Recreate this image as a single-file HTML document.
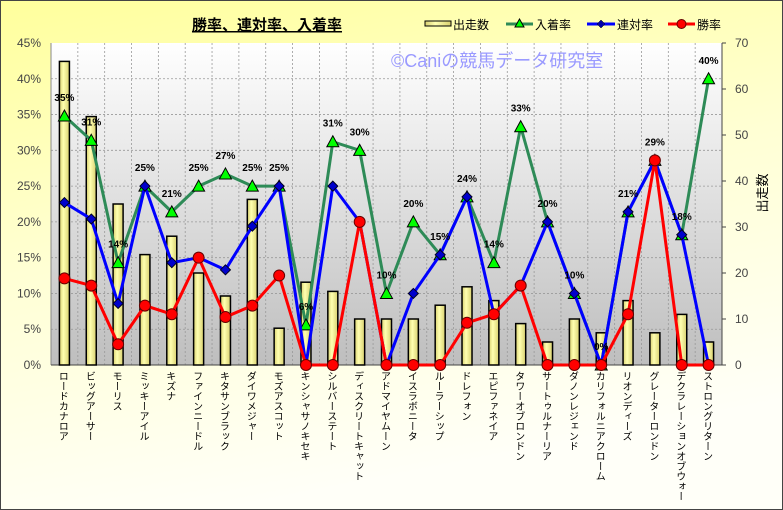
<!DOCTYPE html>
<html><head><meta charset="utf-8">
<style>
body{margin:0;padding:0;}
#c{position:relative;width:783px;height:510px;overflow:hidden;font-family:"Liberation Sans","Noto Sans CJK JP",sans-serif;}
.xl{position:absolute;top:371px;writing-mode:vertical-rl;font-size:10px;color:#000;line-height:11px;white-space:nowrap;font-family:"Noto Sans CJK JP",sans-serif;}
</style></head><body>
<div id="c">
<svg id="s" width="783" height="510" xmlns="http://www.w3.org/2000/svg" style="position:absolute;left:0;top:0">
<defs>
<linearGradient id="bg" x1="0" y1="0" x2="0.3" y2="1"><stop offset="0" stop-color="#ffff9c"/><stop offset="0.5" stop-color="#ffffd4"/><stop offset="1" stop-color="#fffff8"/></linearGradient>
<linearGradient id="pa" x1="0" y1="0" x2="0" y2="1"><stop offset="0" stop-color="#ffffff"/><stop offset="1" stop-color="#bebebe"/></linearGradient>
<linearGradient id="bar" x1="0" y1="0" x2="1" y2="0"><stop offset="0" stop-color="#d8d070"/><stop offset="0.4" stop-color="#ffffb0"/><stop offset="1" stop-color="#d8d070"/></linearGradient>
</defs>
<rect x="0.5" y="0.5" width="782" height="509" fill="url(#bg)" stroke="#444" stroke-width="1"/>
<rect x="51" y="43" width="671" height="322" fill="url(#pa)"/>
<g id="grid"></g>
<text x="267" y="30" font-size="15" font-weight="bold" text-anchor="middle" font-family="Noto Sans CJK JP,sans-serif" text-decoration="underline">勝率、連対率、入着率</text>
<text x="391" y="67" font-size="18" fill="#9a9aff" font-family="Liberation Sans,Noto Sans CJK JP,sans-serif">©Caniの競馬データ研究室</text>
<g font-size="12" font-family="Noto Sans CJK JP,sans-serif">
<rect x="425" y="21" width="26" height="5" fill="url(#bar)" stroke="#000"/>
<text x="453" y="29">出走数</text>
<line x1="506" y1="24" x2="533" y2="24" stroke="#2e8b57" stroke-width="3"/><polygon points="519.5,19 524,27 515,27" fill="#0f0" stroke="#000"/>
<text x="535" y="29">入着率</text>
<line x1="587" y1="24" x2="615" y2="24" stroke="#00f" stroke-width="3"/><polygon points="601,20 605,24 601,28 597,24" fill="#00a" stroke="#000" stroke-width="0.5"/>
<text x="617" y="29">連対率</text>
<line x1="668" y1="24" x2="695" y2="24" stroke="#f00" stroke-width="3"/><circle cx="681.5" cy="24" r="4.5" fill="#f00" stroke="#600"/>
<text x="697" y="29">勝率</text>
</g>
<text transform="translate(767,193) rotate(-90)" font-size="13" text-anchor="middle" font-family="Noto Sans CJK JP,sans-serif">出走数</text>
<g id="plot"></g>
</svg>
<div id="xl"></div>
</div>
<script>
var names=["ロードカナロア","ビッグアーサー","モーリス","ミッキーアイル","キズナ","ファインニードル","キタサンブラック","ダイワメジャー","モズアスコット","キンシャサノキセキ","シルバーステート","ディスクリートキャット","アドマイヤムーン","イスラボニータ","ルーラーシップ","ドレフォン","エピファネイア","タワーオブロンドン","サートゥルナーリア","ダノンレジェンド","カリフォルニアクローム","リオンディーズ","グレーターロンドン","デクラレーションオブウォー","ストロングリターン"];
var cnt=[66,54,35,24,28,20,15,36,8,18,16,10,10,10,13,17,14,9,5,10,7,14,7,11,5];
var win=[12.1,11.1,2.9,8.3,7.1,15,6.7,8.3,12.5,0,0,20,0,0,0,5.9,7.1,11.1,0,0,0,7.1,28.6,0,0];
var ren=[22.7,20.4,8.6,25,14.3,15,13.3,19.4,25,0,25,20,0,10,15.4,23.5,7.1,11.1,20,10,0,21.4,28.6,18.2,0];
var sho=[34.8,31.4,14.3,25,21.4,25,26.7,25,25,5.6,31.2,30,10,20,15.4,23.5,14.3,33.3,20,10,0,21.4,28.6,18.2,40];
var L=51,R=722,T=43,B=365,W=(R-L)/25;
function X(i){return L+W*(i+0.5);}
function Yp(v){return B-v*(B-T)/45;}
function Yc(v){return B-v*(B-T)/70;}
var g="";
for(var i=1;i<9;i++){var y=B-i*(B-T)/9;g+='<line x1="'+L+'" y1="'+y+'" x2="'+R+'" y2="'+y+'" stroke="#999" stroke-dasharray="2,2" stroke-width="0.8"/>';}
for(var i=1;i<25;i++){var x=L+i*W;g+='<line x1="'+x+'" y1="'+T+'" x2="'+x+'" y2="'+B+'" stroke="#999" stroke-dasharray="2,2" stroke-width="0.8"/>';}
g+='<line x1="'+L+'" y1="'+T+'" x2="'+L+'" y2="'+B+'" stroke="#888"/><line x1="'+R+'" y1="'+T+'" x2="'+R+'" y2="'+B+'" stroke="#444"/><line x1="'+L+'" y1="'+B+'" x2="'+R+'" y2="'+B+'" stroke="#444"/>';
for(var i=0;i<=9;i++){var y=B-i*(B-T)/9;g+='<text x="'+(L-10)+'" y="'+(y+4)+'" font-size="12" fill="#444" text-anchor="end">'+(i*5)+'%</text>';}
for(var i=0;i<=7;i++){var y=B-i*(B-T)/7;g+='<line x1="'+R+'" y1="'+y+'" x2="'+(R+4)+'" y2="'+y+'" stroke="#444"/><text x="'+(R+13)+'" y="'+(y+4)+'" font-size="12" fill="#444">'+(i*10)+'</text>';}
document.getElementById("grid").innerHTML=g;
var p="";
for(var i=0;i<25;i++){var y=Yc(cnt[i]);p+='<rect x="'+(X(i)-5)+'" y="'+y+'" width="10" height="'+(B-y)+'" fill="url(#bar)" stroke="#000" stroke-width="1.5"/>';}
function line(a,f,c){var s="";for(var i=0;i<25;i++)s+=X(i)+","+f(a[i])+" ";return '<polyline points="'+s+'" fill="none" stroke="'+c+'" stroke-width="3" stroke-linejoin="round"/>';}
p+=line(sho,Yp,"#2e8b57");
for(var i=0;i<25;i++){var x=X(i),y=Yp(sho[i]);p+='<polygon points="'+x+','+(y-6)+' '+(x+6)+','+(y+5)+' '+(x-6)+','+(y+5)+'" fill="#0f0" stroke="#000"/>';}
p+=line(ren,Yp,"#0000ff");
for(var i=0;i<25;i++){var x=X(i),y=Yp(ren[i]);p+='<polygon points="'+x+','+(y-5)+' '+(x+5)+','+y+' '+x+','+(y+5)+' '+(x-5)+','+y+'" fill="#00c" stroke="#002"/>';}
p+=line(win,Yp,"#ff0000");
for(var i=0;i<25;i++){var x=X(i),y=Yp(win[i]);p+='<circle cx="'+x+'" cy="'+y+'" r="5.5" fill="#f00" stroke="#600"/>';}
for(var i=0;i<25;i++){var x=X(i),y=Yp(sho[i]);p+='<text x="'+x+'" y="'+(y-15)+'" font-size="10" font-weight="bold" text-anchor="middle">'+Math.round(sho[i])+'%</text>';}
document.getElementById("plot").innerHTML=p;
var h="";
for(var i=0;i<25;i++){h+='<div class="xl" style="left:'+(X(i)-6)+'px">'+names[i]+'</div>';}
document.getElementById("xl").innerHTML=h;
</script>
</body></html>
